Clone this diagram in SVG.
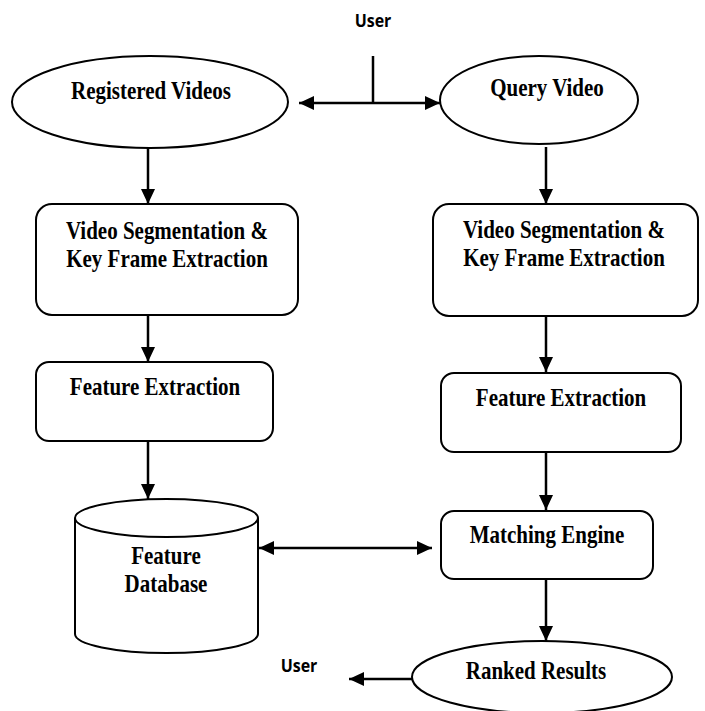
<svg xmlns="http://www.w3.org/2000/svg" width="705" height="711" viewBox="0 0 705 711">
<style>
.shape{fill:#fff;stroke:#000;stroke-width:2}
.lbl{font-family:"Liberation Serif","Times New Roman",serif;font-weight:bold;font-size:21px;fill:#000;text-anchor:middle}
.usr{font-family:"Open Sans","Liberation Sans",sans-serif;font-weight:bold;font-size:16px;fill:#000;text-anchor:middle}
.ln{stroke:#000;stroke-width:2.5;fill:none}
</style>
<defs>
<marker id="ah" markerUnits="userSpaceOnUse" markerWidth="16" markerHeight="16" viewBox="0 0 16 16" refX="15" refY="8" orient="auto-start-reverse">
<path d="M0,1 L15,8 L0,15 Z" fill="#000"/>
</marker>
</defs>
<rect width="705" height="711" fill="#fff"/>

<g id="user-top"><text class="usr" transform="translate(373 27) scale(1 1.15)">User</text></g>

<g id="registered-videos">
<ellipse class="shape" cx="150" cy="102" rx="138" ry="46"/>
<text class="lbl" transform="translate(151 99) scale(1 1.15)">Registered Videos</text>
</g>

<g id="query-video">
<ellipse class="shape" cx="539" cy="100" rx="99" ry="44"/>
<text class="lbl" transform="translate(547 96) scale(1 1.15)">Query Video</text>
</g>

<g id="vs-left">
<rect class="shape" x="36" y="204" width="262" height="111" rx="16"/>
<text class="lbl" transform="translate(167 239) scale(1 1.15)">Video Segmentation &amp;</text>
<text class="lbl" transform="translate(167 267) scale(1 1.15)">Key Frame Extraction</text>
</g>

<g id="vs-right">
<rect class="shape" x="433" y="204" width="265" height="112" rx="16"/>
<text class="lbl" transform="translate(564 238) scale(1 1.15)">Video Segmentation &amp;</text>
<text class="lbl" transform="translate(564 266) scale(1 1.15)">Key Frame Extraction</text>
</g>

<g id="fe-left">
<rect class="shape" x="36" y="362" width="237" height="79" rx="13"/>
<text class="lbl" transform="translate(155 395) scale(1 1.15)">Feature Extraction</text>
</g>

<g id="fe-right">
<rect class="shape" x="441" y="373" width="240" height="79" rx="13"/>
<text class="lbl" transform="translate(561 406) scale(1 1.15)">Feature Extraction</text>
</g>

<g id="feature-database">
<path class="shape" d="M75,518 L75,634 A91.5,19 0 0 0 258,634 L258,518"/>
<ellipse class="shape" cx="166.5" cy="518" rx="91.5" ry="19"/>
<text class="lbl" transform="translate(166 564) scale(1 1.15)">Feature</text>
<text class="lbl" transform="translate(166 592) scale(1 1.15)">Database</text>
</g>

<g id="matching-engine">
<rect class="shape" x="441" y="511" width="212" height="68" rx="13"/>
<text class="lbl" transform="translate(547 543) scale(1 1.15)">Matching Engine</text>
</g>

<g id="ranked-results">
<ellipse class="shape" cx="542" cy="677" rx="130" ry="36"/>
<text class="lbl" transform="translate(536 679) scale(1 1.15)">Ranked Results</text>
</g>

<g id="user-bottom"><text class="usr" transform="translate(299 672) scale(1 1.15)">User</text></g>

<g id="connectors">
<line class="ln" x1="373" y1="56" x2="373" y2="103"/>
<line class="ln" x1="299" y1="103" x2="440" y2="103" marker-start="url(#ah)" marker-end="url(#ah)"/>
<line class="ln" x1="148" y1="148" x2="148" y2="204" marker-end="url(#ah)"/>
<line class="ln" x1="546" y1="147" x2="546" y2="204" marker-end="url(#ah)"/>
<line class="ln" x1="148" y1="315" x2="148" y2="362" marker-end="url(#ah)"/>
<line class="ln" x1="546" y1="316" x2="546" y2="372" marker-end="url(#ah)"/>
<line class="ln" x1="148" y1="441" x2="148" y2="499" marker-end="url(#ah)"/>
<line class="ln" x1="546" y1="452" x2="546" y2="510" marker-end="url(#ah)"/>
<line class="ln" x1="259" y1="548" x2="432" y2="548" marker-start="url(#ah)" marker-end="url(#ah)"/>
<line class="ln" x1="546" y1="579" x2="546" y2="641" marker-end="url(#ah)"/>
<line class="ln" x1="412" y1="679" x2="349" y2="679" marker-end="url(#ah)"/>
</g>
</svg>
